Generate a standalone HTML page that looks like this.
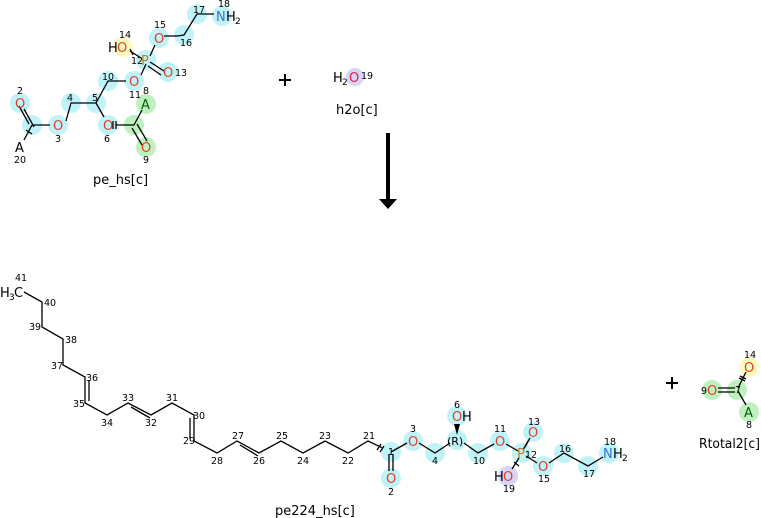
<!DOCTYPE html>
<html><head><meta charset="utf-8"><style>
body{margin:0;background:#fff}
svg{display:block;font-family:"DejaVu Sans","Liberation Sans",sans-serif}
.n{font-size:9.5px;fill:#000}
.o{font-size:13px;fill:#e0402a}
.b{stroke:#000;stroke-width:1.3;fill:none}
.c{fill:#bff3f8}
.y{fill:#fffbc0}
.g{fill:#bff0bf}
.l{fill:#d6d6fb}
.t{font-size:13px;fill:#000}
</style></head><body>
<svg width="761" height="518" viewBox="0 0 761 518">
<g class="c">
<circle cx="20" cy="103" r="10"/><circle cx="32" cy="125" r="10"/><circle cx="58" cy="125" r="10"/><circle cx="71" cy="103" r="10"/><circle cx="96" cy="103" r="10"/><circle cx="108" cy="81" r="10"/><circle cx="134" cy="81" r="10"/><circle cx="146" cy="60" r="10"/><circle cx="168" cy="72" r="10"/><circle cx="159" cy="38" r="10"/><circle cx="184" cy="35" r="10"/><circle cx="197" cy="14" r="10"/><circle cx="222" cy="16" r="10"/><circle cx="108" cy="125" r="10"/>
</g>
<circle class="y" cx="123" cy="47" r="10"/>
<g class="g"><circle cx="134" cy="125" r="10"/><circle cx="146" cy="104" r="10"/><circle cx="146" cy="147" r="10"/></g>
<g class="b">
<path d="M24 109L34 127M19 106L29 124"/>
<path d="M32 125L50 125M66 121L71 103L96 103L108 81L126 81M141 75L146 64M150 56L155 45M164 36L177 36L184 35L197 14L214 14"/>
<path d="M96 103L104 117M116 125L134 125L142 110M132 128L142 145M137 124L147 141"/>
<path d="M150 62L164 71M148 66L161 75M141 58L130 51"/>
<path d="M32 125L24 140"/>
</g>
<g class="b" stroke-width="1"><path d="M26 130L32 134M113 121L113 129M116 121L116 129M130 49L133 55"/></g>
<text class="o" x="15" y="108">O</text><text class="o" x="53" y="130">O</text><text class="o" x="129" y="86">O</text><text class="o" x="163" y="77">O</text><text class="o" x="154" y="43">O</text><text class="o" x="103" y="130">O</text><text class="o" x="141" y="152">O</text>
<text x="141" y="65" style="font-size:13px;fill:#c08020">P</text>
<text x="108" y="52" class="t">H</text><text class="o" x="117" y="52">O</text>
<text x="216" y="21" style="font-size:13px;fill:#3070e0">N</text><text x="226" y="21" class="t">H</text><text x="235" y="24" style="font-size:9px">2</text>
<text x="141" y="109" style="font-size:13px;fill:#006000">A</text>
<text x="15" y="152" class="t">A</text>
<g class="n">
<text x="17" y="94">2</text><text x="55" y="142">3</text><text x="67" y="101">4</text><text x="92" y="101">5</text><text x="104" y="142">6</text><text x="102" y="80">10</text><text x="129" y="98">11</text><text x="131" y="64">12</text><text x="175" y="76">13</text><text x="119" y="38">14</text><text x="154" y="28">15</text><text x="180" y="46">16</text><text x="193" y="13">17</text><text x="218" y="7">18</text><text x="143" y="94">8</text><text x="143" y="163">9</text><text x="14" y="163">20</text>
</g>
<text x="93" y="184" class="t">pe_hs[c]</text>
<path d="M279 80H291M285 74V86" stroke="#000" stroke-width="2"/>
<circle class="l" cx="355" cy="77" r="9"/>
<text x="333" y="82" class="t">H</text><text x="342" y="85" style="font-size:9px">2</text><text x="349" y="82" style="font-size:13px;fill:#e0203a">O</text><text x="361" y="79" class="n">19</text>
<text x="336" y="114" class="t">h2o[c]</text>
<rect x="386" y="133" width="4" height="68" fill="#000"/>
<path d="M379 199L397 199L388 209Z" fill="#000"/>
<g class="b">
<path d="M24 292L42 302L42 327L63 339L63 365L85 377L85 403L107 415L128 403L151 415L172 403L194 415L194 441L217 453L237 441L259 453L281 441L303 453L325 441L348 453L368 441L391 452"/>
<path d="M89 380L89 401M131 407L150 418M190 418L190 439M240 445L258 456"/>
</g>
<text x="0" y="297" class="t">H</text><text x="9" y="300" style="font-size:9px">3</text><text x="14" y="297" class="t">C</text>
<g class="n">
<text x="15" y="281">41</text><text x="44" y="306">40</text><text x="29" y="330">39</text><text x="65" y="343">38</text><text x="51" y="369">37</text><text x="86" y="381">36</text><text x="73" y="407">35</text><text x="101" y="426">34</text><text x="122" y="401">33</text><text x="145" y="426">32</text><text x="166" y="401">31</text><text x="193" y="419">30</text><text x="183" y="444">29</text><text x="211" y="464">28</text><text x="232" y="439">27</text><text x="253" y="464">26</text><text x="276" y="439">25</text><text x="297" y="464">24</text><text x="319" y="439">23</text><text x="342" y="464">22</text><text x="363" y="439">21</text>
</g>
<g class="c">
<circle cx="391" cy="452" r="10"/><circle cx="391" cy="478" r="10"/><circle cx="413" cy="441" r="10"/><circle cx="435" cy="453" r="10"/><circle cx="457" cy="440" r="10"/><circle cx="457" cy="416" r="10"/><circle cx="478" cy="453" r="10"/><circle cx="500" cy="441" r="10"/><circle cx="522" cy="453" r="10"/><circle cx="533" cy="432" r="10"/><circle cx="543" cy="466" r="10"/><circle cx="564" cy="453" r="10"/><circle cx="588" cy="466" r="10"/><circle cx="609" cy="453" r="10"/>
</g>
<circle class="l" cx="508" cy="476" r="10"/>
<g class="b">
<path d="M389 454L389 471M393 454L393 471M391 452L407 443M419 443L435 453L450 443M464 443L478 453L494 444M506 444L518 451M525 447L530 438M523 450L528 441M526 456L537 463M549 463L564 453L588 466L603 457M519 458L512 469"/>
</g>
<path d="M457 435L454 424L460 424Z" fill="#000"/>
<g class="b" stroke-width="1"><path d="M384 446L380 452M381 444L377 450M514 462L519 466"/></g>
<text class="o" x="386" y="483">O</text><text class="o" x="408" y="446">O</text><text class="o" x="452" y="421">O</text><text x="462" y="421" class="t">H</text><text class="o" x="495" y="446">O</text><text class="o" x="528" y="437">O</text><text class="o" x="538" y="471">O</text>
<text x="447" y="445" style="font-size:11px">(R)</text>
<text x="517" y="458" style="font-size:13px;fill:#c08020">P</text>
<text x="494" y="481" class="t">H</text><text class="o" x="503" y="481">O</text>
<text x="603" y="458" style="font-size:13px;fill:#3070e0">N</text><text x="613" y="458" class="t">H</text><text x="622" y="461" style="font-size:9px">2</text>
<g class="n">
<text x="388" y="455">1</text><text x="388" y="495">2</text><text x="410" y="432">3</text><text x="432" y="464">4</text><text x="454" y="408">6</text><text x="473" y="464">10</text><text x="494" y="432">11</text><text x="525" y="458">12</text><text x="528" y="425">13</text><text x="538" y="482">15</text><text x="559" y="452">16</text><text x="583" y="477">17</text><text x="604" y="445">18</text><text x="503" y="492">19</text>
</g>
<text x="275" y="515" class="t">pe224_hs[c]</text>
<path d="M666 383H678M672 377V389" stroke="#000" stroke-width="2"/>
<circle class="y" cx="749" cy="367" r="10"/>
<g class="g"><circle cx="712" cy="390" r="10"/><circle cx="737" cy="390" r="10"/><circle cx="749" cy="412" r="10"/></g>
<g class="b"><path d="M718 388L735 388M718 392L735 392M738 388L746 372M738 391L746 405"/></g>
<g class="b" stroke-width="1"><path d="M739 378L745 381M740 376L746 379"/></g>
<text class="o" x="707" y="395">O</text><text class="o" x="744" y="372">O</text>
<text x="744" y="417" style="font-size:13px;fill:#006000">A</text>
<g class="n"><text x="701" y="394">9</text><text x="744" y="358">14</text><text x="746" y="428">8</text><text x="735" y="393">7</text></g>
<text x="699" y="448" class="t" textLength="61" lengthAdjust="spacingAndGlyphs">Rtotal2[c]</text>
</svg>
</body></html>
